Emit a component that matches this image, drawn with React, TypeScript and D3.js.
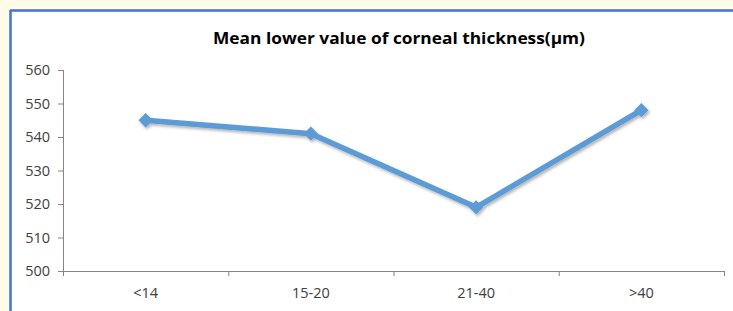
import React from 'react';
import * as d3 from 'd3';

const categories = ['<14', '15-20', '21-40', '>40'];
const meanValues = [545, 541, 519, 548];
const yTicks = [500, 510, 520, 530, 540, 550, 560];
const chartTitle = 'Mean lower value of corneal thickness(µm)';

const W = 733;
const H = 311;
const margin = { top: 70, right: 9, bottom: 40, left: 63 };

const App: React.FC = () => {
  const x = d3.scaleBand<string>()
    .domain(categories)
    .range([margin.left, W - margin.right])
    .paddingInner(0)
    .paddingOuter(0);

  const y = d3.scaleLinear()
    .domain([500, 560])
    .range([H - margin.bottom, margin.top]);

  const pts = categories.map((c, i) => [x(c)! + x.bandwidth() / 2, y(meanValues[i])] as [number, number]);
  const linePath = d3.line()(pts) || '';
  const diamond = d3.symbol().type(d3.symbolDiamond2).size(130)() || '';

  const axisColor = '#868686';
  const textColor = '#404040';
  const font = '"Open Sans", "Noto Sans", sans-serif';
  const y0 = y(500);
  const boundaries = [...categories.map(c => x(c)!), W - margin.right];

  return (
    <div style={{ position: 'fixed', left: 0, top: 0, width: W, height: H }}>
      <svg width={W} height={H} style={{ display: 'block' }}>
        <defs>
          <filter id="shadow" x="-20%" y="-20%" width="140%" height="140%">
            <feDropShadow dx="1.5" dy="2" stdDeviation="1.8" floodColor="#000" floodOpacity="0.3" />
          </filter>
        </defs>
        <rect x={0} y={0} width={W} height={H} fill="#fffbe9" />
        <rect x={10} y={10} width={W} height={H} fill="#ffffff" />
        <line x1={10} x2={W} y1={10.5} y2={10.5} stroke="#4472c4" strokeWidth={2.5} />
        <line x1={10.5} x2={10.5} y1={10} y2={H} stroke="#4472c4" strokeWidth={2.5} />

        <text x={399} y={44} textAnchor="middle" fontFamily={font} fontWeight="bold"
          fontSize={16.5} fill="#000" textLength={372} lengthAdjust="spacingAndGlyphs">
          {chartTitle}
        </text>

        {/* y axis */}
        <line x1={margin.left + 0.5} x2={margin.left + 0.5} y1={y(560)} y2={y0} stroke={axisColor} />
        {yTicks.map(t => (
          <g key={t}>
            <line x1={margin.left - 5} x2={margin.left} y1={y(t) + 0.5} y2={y(t) + 0.5} stroke={axisColor} />
            <text x={50} y={y(t)} dy="0.35em" textAnchor="end" fontFamily={font} fontSize={14.5} fill={textColor}>
              {t}
            </text>
          </g>
        ))}

        {/* x axis */}
        <line x1={margin.left} x2={W - margin.right} y1={y0 + 0.5} y2={y0 + 0.5} stroke={axisColor} />
        {boundaries.map((b, i) => (
          <line key={i} x1={b + 0.5} x2={b + 0.5} y1={y0} y2={y0 + 5} stroke={axisColor} />
        ))}
        {categories.map(c => (
          <text key={c} x={x(c)! + x.bandwidth() / 2} y={293} dy="0.35em" textAnchor="middle"
            fontFamily={font} fontSize={14.5} fill={textColor}>
            {c}
          </text>
        ))}

        <g filter="url(#shadow)">
          <path d={linePath} fill="none" stroke="#5b9bd5" strokeWidth={5.5} strokeLinejoin="round" strokeLinecap="round" />
          {pts.map((p, i) => (
            <path key={i} d={diamond} transform={`translate(${p[0]},${p[1]})`} fill="#5b9bd5" />
          ))}
        </g>
      </svg>
    </div>
  );
};

export default App;
